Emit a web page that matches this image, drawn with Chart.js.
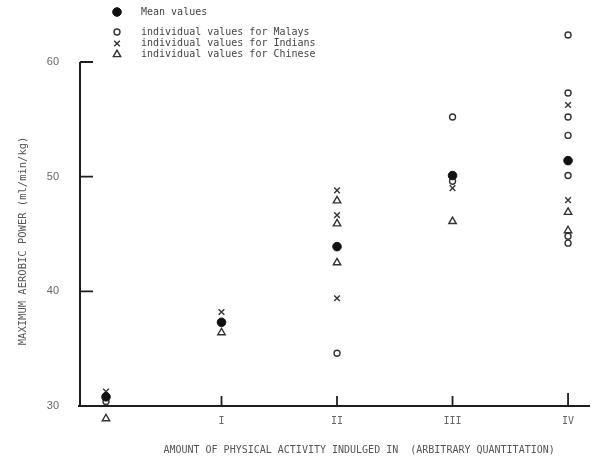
<!DOCTYPE html>
<html><head><meta charset="utf-8">
<script src="https://cdn.jsdelivr.net/npm/chart.js@4/dist/chart.umd.min.js"></script>
<style>html,body{margin:0;padding:0;background:#fff;}#wrap{width:597px;height:460px;position:relative;}</style>
</head><body><div id="wrap"><canvas id="c" width="597" height="460"></canvas></div>
<script>
// ---- data ----
const categoryPositions = [0, 1, 2, 3, 4];
const xTickLabels = ['', 'I', 'II', 'III', 'IV'];
const yTickValues = [30, 40, 50, 60];
const meanValues = [30.8, 37.3, 43.9, 50.1, 51.4];
const malayCategory = [0, 2, 3, 3, 4, 4, 4, 4, 4, 4, 4];
const malayValues = [30.4, 34.6, 55.2, 49.6, 62.35, 57.3, 55.2, 53.6, 50.1, 44.8, 44.2];
const indianCategory = [0, 1, 2, 2, 2, 3, 4, 4];
const indianValues = [31.25, 38.2, 48.8, 46.65, 39.4, 49.0, 56.25, 47.95];
const chineseCategory = [0, 1, 2, 2, 2, 3, 4, 4];
const chineseValues = [28.9, 36.4, 47.9, 45.9, 42.5, 46.1, 46.9, 45.3];
const legendLabels = ['Mean values', 'individual values for Malays', 'individual values for Indians', 'individual values for Chinese'];
const xTitle = 'AMOUNT OF PHYSICAL ACTIVITY INDULGED IN  (ARBITRARY QUANTITATION)';
const yTitle = 'MAXIMUM AEROBIC POWER (ml/min/kg)';

const MONO = '"DejaVu Sans Mono", monospace';
const pts = (cats, vals) => cats.map((c, i) => ({x: c, y: vals[i]}));

const axisPlugin = {
  id: 'axes',
  beforeDatasetsDraw(chart) {
    const {ctx} = chart;
    const xs = chart.scales.x, ys = chart.scales.y;
    const x0 = xs.left, y30 = ys.getPixelForValue(yTickValues[0]);
    const yTop = ys.getPixelForValue(yTickValues[yTickValues.length - 1]);
    ctx.save();
    ctx.strokeStyle = '#1e1e1e';
    ctx.lineWidth = 2;
    ctx.beginPath();
    ctx.moveTo(x0, yTop); ctx.lineTo(x0, y30 + 1);
    ctx.moveTo(x0 - 2, y30); ctx.lineTo(xs.right, y30);
    ctx.stroke();
    ctx.lineWidth = 1.8;
    ctx.beginPath();
    yTickValues.slice(1).forEach(v => {
      const y = ys.getPixelForValue(v);
      ctx.moveTo(x0, y); ctx.lineTo(x0 + 13, y);
    });
    categoryPositions.forEach((c, i) => {
      if (!xTickLabels[i]) return;
      const x = xs.getPixelForValue(c);
      ctx.moveTo(x, y30); ctx.lineTo(x, y30 - (i === categoryPositions.length - 1 ? 13 : 10));
    });
    ctx.stroke();
    // x tick labels, positioned through the x scale
    ctx.fillStyle = '#666';
    ctx.font = '10px ' + MONO;
    ctx.textAlign = 'center';
    ctx.textBaseline = 'middle';
    categoryPositions.forEach((c, i) => {
      if (!xTickLabels[i]) return;
      ctx.fillText(xTickLabels[i], xs.getPixelForValue(c), y30 + 15);
    });
    ctx.restore();
  }
};

const legendPlugin = {
  id: 'customLegend',
  afterDraw(chart) {
    const {ctx} = chart;
    const rows = [12, 32, 43.5, 54.5];
    ctx.save();
    chart.data.datasets.forEach((ds, i) => {
      const y = rows[i];
      ctx.fillStyle = ds.backgroundColor;
      ctx.strokeStyle = ds.borderColor;
      ctx.lineWidth = ds.borderWidth;
      Chart.helpers.drawPoint(ctx, {pointStyle: ds.pointStyle, radius: ds.pointRadius, rotation: 0, borderWidth: ds.borderWidth}, 117, y);
      ctx.fillStyle = '#444';
      ctx.font = '10px ' + MONO;
      ctx.textBaseline = 'middle';
      ctx.textAlign = 'left';
      ctx.fillText(legendLabels[i], 141, y);
    });
    ctx.restore();
  }
};

new Chart(document.getElementById('c'), {
  type: 'scatter',
  data: {
    datasets: [
      {label: legendLabels[0], data: pts(categoryPositions, meanValues), pointStyle: 'circle', pointRadius: 4.3, backgroundColor: '#111', borderColor: '#111', borderWidth: 1, clip: false},
      {label: legendLabels[1], data: pts(malayCategory, malayValues), pointStyle: 'circle', pointRadius: 3, backgroundColor: 'rgba(0,0,0,0)', borderColor: '#333', borderWidth: 1.4, clip: false},
      {label: legendLabels[2], data: pts(indianCategory, indianValues), pointStyle: 'crossRot', pointRadius: 4, backgroundColor: 'rgba(0,0,0,0)', borderColor: '#333', borderWidth: 1.4, clip: false},
      {label: legendLabels[3], data: pts(chineseCategory, chineseValues), pointStyle: 'triangle', pointRadius: 4.3, backgroundColor: 'rgba(0,0,0,0)', borderColor: '#333', borderWidth: 1.4, clip: false}
    ]
  },
  options: {
    responsive: false,
    devicePixelRatio: 1,
    animation: false,
    events: [],
    layout: {padding: {top: 27.6, right: 7, left: 0, bottom: 0}},
    plugins: {legend: {display: false}, tooltip: {enabled: false}},
    scales: {
      x: {
        type: 'linear', min: -0.225, max: 4.19,
        afterBuildTicks: s => { s.ticks = categoryPositions.map(v => ({value: v})); },
        afterFit: s => { s.height = 31.07; },
        grid: {display: false, drawTicks: false},
        border: {display: false},
        ticks: {display: false},
        title: {display: true, text: '        ' + xTitle, color: '#555', font: {family: MONO, size: 10}, padding: {top: 0, bottom: 4}}
      },
      y: {
        type: 'linear', min: 28, max: 63,
        afterBuildTicks: s => { s.ticks = yTickValues.map(v => ({value: v})); },
        afterFit: s => { s.width = 80; },
        grid: {display: false, drawTicks: false},
        border: {display: false},
        ticks: {padding: 21, color: '#666', font: {family: '"Liberation Sans", Arial, sans-serif', size: 11}},
        title: {display: true, text: yTitle + '    ', color: '#555', font: {family: MONO, size: 10.5}, padding: {top: 17, bottom: 0}}
      }
    }
  },
  plugins: [axisPlugin, legendPlugin]
});
</script></body></html>
